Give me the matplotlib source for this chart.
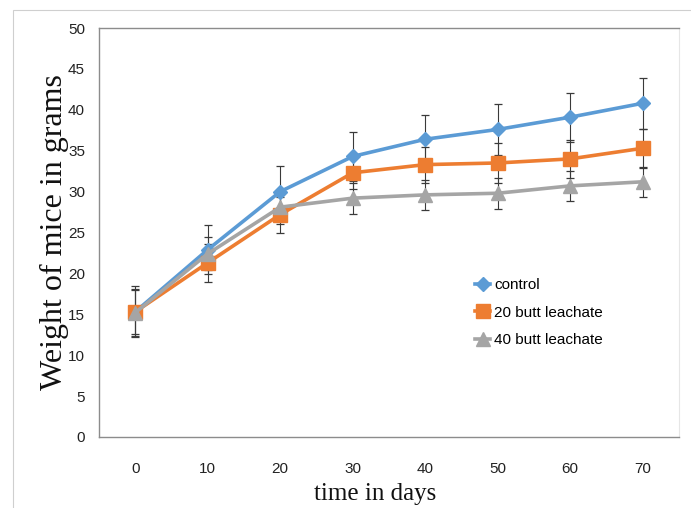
import matplotlib.pyplot as plt
from matplotlib.patches import Rectangle

# data
days = [0, 10, 20, 30, 40, 50, 60, 70]
control = [15.3, 22.9, 30.0, 34.3, 36.4, 37.6, 39.1, 40.8]
butt20 = [15.3, 21.3, 27.2, 32.3, 33.3, 33.5, 34.0, 35.3]
butt40 = [15.2, 22.4, 28.1, 29.2, 29.6, 29.8, 30.7, 31.2]
control_err = [3.1, 3.0, 3.1, 3.0, 3.0, 3.1, 3.0, 3.1]
butt20_err = [2.7, 2.3, 2.2, 2.0, 2.2, 2.4, 2.3, 2.4]
butt40_err = [2.9, 2.0, 2.0, 1.9, 1.8, 1.9, 1.8, 1.8]
labels = ['control', '20 butt leachate', '40 butt leachate']

sans = ['Liberation Sans', 'DejaVu Sans']
serif = ['Liberation Serif', 'DejaVu Serif']

fig = plt.figure(figsize=(6.91, 5.08), dpi=100)
ax = fig.add_axes([99 / 691, 1 - 437 / 508, 580 / 691, 409 / 508])

# outer chart border (light gray, right/bottom run off the image)
fig.add_artist(Rectangle((13 / 691, -0.2), 1.2, 1.2 - 10 / 508,
                         transform=fig.transFigure, fill=False,
                         ec='#cfcfcf', lw=0.8))

series = [
    (control, control_err, '#5B9BD5', 'D', 7.5),
    (butt20, butt20_err, '#ED7D31', 's', 9.5),
    (butt40, butt40_err, '#A5A5A5', '^', 9.5),
]

handles = []
for vals, err, col, mk, ms in series:
    cont = ax.errorbar(days, vals, yerr=err, color=col, lw=2.6,
                       marker=mk, ms=ms, mfc=col, mec=col,
                       ecolor='#3a3a3a', elinewidth=0.8, capsize=3,
                       capthick=0.9)
    handles.append(cont[0])

ax.set_xlim(-5, 75)
ax.set_ylim(0, 50)
ax.set_xticks(days)
ax.set_yticks(range(0, 51, 5))
ax.tick_params(length=0)
ax.tick_params(axis='x', pad=18)
ax.tick_params(axis='y', pad=10)
for lab in ax.get_xticklabels() + ax.get_yticklabels():
    lab.set_family(sans)
    lab.set_fontsize(11)
    lab.set_color('#222222')

for side in ['left', 'bottom', 'top']:
    ax.spines[side].set_color('#8c8c8c')
    ax.spines[side].set_linewidth(1.0)
ax.spines['right'].set_color('#e6e6e6')

fig.text(54 / 691, 1 - 232 / 508, 'Weight of mice in grams', rotation=90,
         ha='center', va='center', family=serif, fontsize=23,
         color='#111111')
fig.text(375 / 691, 1 - 494 / 508, 'time in days', ha='center',
         va='center', family=serif, fontsize=18, color='#111111')

leg = ax.legend(handles, labels, loc='upper left',
                bbox_to_anchor=(0.63, 0.415), frameon=False,
                prop={'family': sans, 'size': 11}, handlelength=1.0,
                handletextpad=0.25, labelspacing=0.9, borderpad=0.2)

fig.savefig('out.png', dpi=100)
